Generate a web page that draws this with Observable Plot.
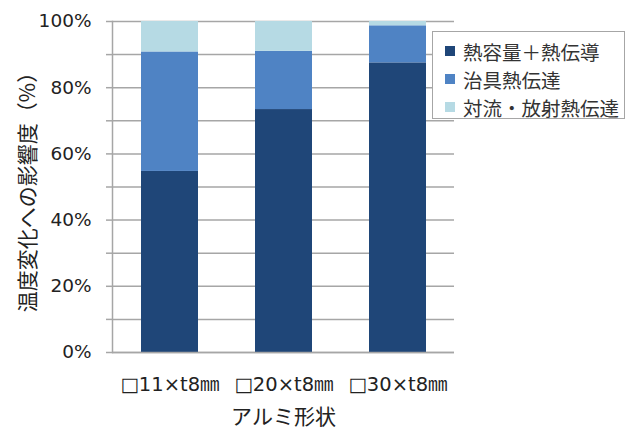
<!DOCTYPE html>
<html><head><meta charset="utf-8">
<script src="https://cdn.jsdelivr.net/npm/d3@7"></script>
<script src="https://cdn.jsdelivr.net/npm/@observablehq/plot@0.6"></script>
<style>
html,body{margin:0;padding:0;background:#fff;}
#wrap{position:relative;width:634px;height:434px;}
#legend{position:absolute;left:432px;top:31px;width:193px;height:88px;box-sizing:border-box;border:1px solid #a6a6a6;background:#fff;padding:5px 0 0 12px;font-family:"Noto Sans CJK JP",sans-serif;font-size:19.5px;color:#333;}
.item{display:flex;align-items:center;height:28px;white-space:nowrap;}
.sw{width:10px;height:10px;margin-right:8px;flex:none;}
</style></head><body><div id="wrap"></div>
<script>
const categories = ["□11×t8㎜", "□20×t8㎜", "□30×t8㎜"];
const seriesNames = ["熱容量＋熱伝導", "治具熱伝達", "対流・放射熱伝達"];
const heatValues = [54.7, 73.4, 87.5];
const jigValues = [36.1, 17.6, 11.2];
const convValues = [9.2, 9.0, 1.3];
const seriesColors = ["#1f4678", "#4f83c4", "#b6dae4"];
const yGridTicks = [0, 10, 20, 30, 40, 50, 60, 70, 80, 90, 100];
const yLabelTicks = [0, 20, 40, 60, 80, 100];
const yLabel = "温度変化への影響度（%）";
const xLabel = "アルミ形状";

const seriesValues = [heatValues, jigValues, convValues];
const data = seriesNames.flatMap((s, i) => categories.map((c, j) => ({category: c, series: s, value: seriesValues[i][j]})));

const chart = Plot.plot({
  width: 634, height: 434,
  marginLeft: 112, marginRight: 180, marginTop: 21, marginBottom: 82,
  style: {fontFamily: '"DejaVu Sans","Noto Sans CJK JP",sans-serif', fontSize: "18px", color: "#222", background: "#fff"},
  x: {type: "band", domain: categories, paddingInner: 0.5, paddingOuter: 0.25},
  y: {domain: [0, 100]},
  color: {domain: seriesNames, range: seriesColors},
  marks: [
    Plot.gridY(yGridTicks, {stroke: "#a6a6a6", strokeOpacity: 1, strokeWidth: 1.5}),
    Plot.barY(data, {x: "category", y: "value", fill: "series", order: seriesNames}),
    Plot.axisY(yGridTicks, {tickSize: 6, tickFormat: () => "", stroke: "#a6a6a6", strokeWidth: 1.5, strokeOpacity: 1, label: null}),
    Plot.axisY(yLabelTicks, {tickSize: 0, tickPadding: 21, tickFormat: d => d + "%", fontSize: 18.5, label: yLabel, labelAnchor: "center", labelOffset: 92, labelArrow: "none"}),
    Plot.axisX({tickSize: 0, tickPadding: 25, fontSize: 19.5, label: xLabel, labelAnchor: "center", labelOffset: 71, labelArrow: "none"}),
    Plot.ruleY([0], {stroke: "#a6a6a6", strokeWidth: 1.5}),
    Plot.frame({anchor: "left", stroke: "#a6a6a6", strokeWidth: 1.5, strokeOpacity: 1})
  ]
});
const wrap = document.getElementById("wrap");
wrap.appendChild(chart);

d3.select(chart).selectAll('g[aria-label="y-axis label"], g[aria-label="x-axis label"]')
  .attr("font-size", null).style("font-size", "21px").style("font-family", '"Noto Sans CJK JP",sans-serif')
  .selectAll("text").attr("font-size", null).style("font-size", "21px");

const legend = document.createElement("div");
legend.id = "legend";
seriesNames.forEach((s, i) => {
  const item = document.createElement("div");
  item.className = "item";
  const sw = document.createElement("span");
  sw.className = "sw";
  sw.style.background = seriesColors[i];
  const t = document.createElement("span");
  t.textContent = s;
  item.appendChild(sw);
  item.appendChild(t);
  legend.appendChild(item);
});
wrap.appendChild(legend);
</script></body></html>
